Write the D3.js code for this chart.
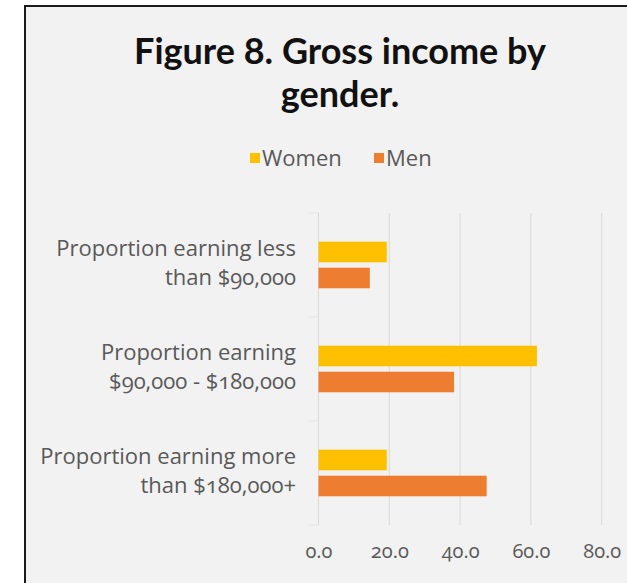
<!DOCTYPE html>
<html>
<head>
<meta charset="utf-8">
<script src="https://cdn.jsdelivr.net/npm/d3@7"></script>
<style>
  html, body { margin: 0; padding: 0; background: #ffffff; }
  svg { display: block; }
  .lbl { font-family: "Open Sans", "Noto Sans", sans-serif; font-variant-numeric: oldstyle-nums; font-feature-settings: "onum" 1; fill: #595959; }
</style>
</head>
<body>
<svg id="chart" width="627" height="583"></svg>
<script>
// Income bands (two-line labels) and share of each gender in each band (%)
const categories = [
  ["Proportion earning less", "than $90,000"],
  ["Proportion earning", "$90,000 - $180,000"],
  ["Proportion earning more", "than $180,000+"]
];
const seriesNames = ["Women", "Men"];
const women = [19.3, 61.7, 19.3];
const men = [14.5, 38.3, 47.5];
const xTicks = [0, 20, 40, 60, 80];
const colors = ["#FFC000", "#ED7D31"];

const svg = d3.select("#chart");

// Framed panel
svg.append("rect")
  .attr("x", 25).attr("y", 6)
  .attr("width", 700).attr("height", 700)
  .attr("fill", "#f2f2f2")
  .attr("stroke", "#1a1a1a").attr("stroke-width", 2);

// Title
const title = svg.append("text")
  .attr("text-anchor", "middle")
  .attr("font-family", "Lato, 'Open Sans', sans-serif")
  .attr("font-weight", "bold")
  .attr("font-size", 36)
  .attr("fill", "#111111");
title.append("tspan").attr("x", 340).attr("y", 64).text("Figure 8. Gross income by");
title.append("tspan").attr("x", 340).attr("y", 107).text("gender.");

// Scales
const x = d3.scaleLinear().domain([0, 80]).range([318.5, 601.7]);
const catIdx = d3.range(categories.length);
const y = d3.scaleBand().domain(catIdx).range([213, 525]).padding(0);
const ySub = d3.scaleBand().domain(seriesNames).range([0, y.bandwidth()])
  .paddingInner(0.208).paddingOuter(1.104);

// Legend
const legend = svg.append("g");
const legendItems = [
  { name: seriesNames[0], color: colors[0], sx: 250, tx: 262 },
  { name: seriesNames[1], color: colors[1], sx: 374, tx: 386 }
];
legendItems.forEach(d => {
  legend.append("rect").attr("x", d.sx).attr("y", 153).attr("width", 10).attr("height", 10).attr("fill", d.color);
  legend.append("text").attr("class", "lbl").attr("x", d.tx).attr("y", 166)
    .attr("font-size", 22).text(d.name);
});

// Vertical gridlines
svg.append("g").selectAll("line").data(xTicks).join("line")
  .attr("x1", d => x(d)).attr("x2", d => x(d))
  .attr("y1", 213).attr("y2", 525)
  .attr("stroke", "#d9d9d9").attr("stroke-width", 1);

// Faint category separator ticks on the left of the value axis
svg.append("g").selectAll("line").data(catIdx.map(i => y(i) + y.bandwidth()).concat([y(0)])).join("line")
  .attr("x1", x(0) - 10).attr("x2", x(0))
  .attr("y1", d => d).attr("y2", d => d)
  .attr("stroke", "#e6e6e6").attr("stroke-width", 1);

// Bars
const seriesData = [women, men];
const bars = svg.append("g");
seriesNames.forEach((name, s) => {
  bars.selectAll(null).data(seriesData[s]).join("rect")
    .attr("x", x(0))
    .attr("y", (d, i) => y(i) + ySub(name))
    .attr("width", d => x(d) - x(0))
    .attr("height", ySub.bandwidth())
    .attr("fill", colors[s]);
});

// Bottom axis labels
const xAxis = d3.axisBottom(x).tickValues(xTicks).tickFormat(d3.format(".1f")).tickSize(0).tickPadding(0);
const gx = svg.append("g").attr("transform", "translate(0,544)").call(xAxis);
gx.select(".domain").remove();
gx.selectAll("text").attr("class", "lbl").attr("font-size", 20).attr("dy", "0.71em").attr("y", 0);

// Category labels
const catLabels = svg.append("g");
categories.forEach((lines, i) => {
  const cy = y(i) + y.bandwidth() / 2;
  const t = catLabels.append("text").attr("class", "lbl").attr("text-anchor", "end").attr("font-size", 22);
  t.append("tspan").attr("x", 296).attr("y", cy - 9).text(lines[0]);
  t.append("tspan").attr("x", 296).attr("y", cy + 20).text(lines[1]);
});
</script>
</body>
</html>
